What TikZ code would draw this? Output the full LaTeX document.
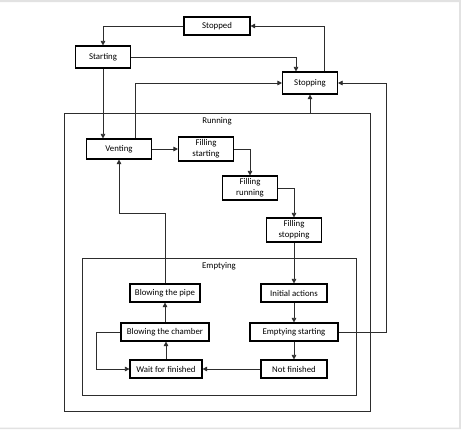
\documentclass[tikz,border=0pt]{standalone}
\usepackage{fontspec}
\setmainfont{Carlito}
\usetikzlibrary{arrows.meta, positioning, calc}
\definecolor{frame1}{RGB}{226,226,226}
\definecolor{line1}{RGB}{45,45,45}

\begin{document}
\begin{tikzpicture}[x=1pt, y=-1pt,
  state/.style={draw, line width=1.1pt, minimum height=18pt, inner sep=1pt, align=center, font=\fontsize{8.8}{11}\selectfont},
  group/.style={draw=line1, line width=0.8pt},
  caption/.style={font=\fontsize{8.8}{11}\selectfont},
  flow/.style={draw=line1, line width=0.6pt, -{Triangle[length=4.5pt,width=4.5pt]}}]
  \useasboundingbox[fill=white] (0,0) rectangle (461,429);
  \fill[frame1] (0,0) rectangle (461,2) (459,0) rectangle (461,429) (0,427.5) rectangle (461,429);

  \node[group, minimum width=306, minimum height=298] (running) at (217,262) {};
  \node[caption] (runlabel) at (217,121) {Running};
  \node[group, minimum width=274, minimum height=137] (emptying) at (219,326.5) {};
  \node[caption] (emplabel) at (219,266) {Emptying};

  \node[state, minimum width=66] (stopped) at (217,26) {Stopped};
  \node[state, minimum width=55, minimum height=22] (starting) at (103,57) {Starting};
  \node[state, minimum width=55, minimum height=22] (stopping) at (310,83) {Stopping};
  \node[state, minimum width=65, minimum height=20] (venting) at (119,149) {Venting};
  \node[state, minimum width=55, minimum height=24] (fillstart) at (206,149) {Filling\\starting};
  \node[state, minimum width=55, minimum height=24] (fillrun) at (250,188) {Filling\\running};
  \node[state, minimum width=55, minimum height=24] (fillstop) at (294,230) {Filling\\stopping};
  \node[state, minimum width=70] (pipe) at (165,293) {Blowing the pipe};
  \node[state, minimum width=66] (initial) at (294,293) {Initial actions};
  \node[state, minimum width=88] (chamber) at (165,332) {Blowing the chamber};
  \node[state, minimum width=88] (empstart) at (294,332) {Emptying starting};
  \node[state, minimum width=72] (wait) at (166,369) {Wait for finished};
  \node[state, minimum width=66] (notfin) at (294,369) {Not finished};
  \coordinate (outer) at (386,0);

  \draw[flow] (stopped.west) -| (starting.north);
  \draw[flow] (starting.east) -| ($(stopping.north)+(-14,0)$);
  \draw[flow] ($(stopping.north)+(14,0)$) |- (stopped.east);
  \draw[flow] (starting.south) -- (starting.south |- venting.north);
  \draw[flow] ($(venting.north)+(16,0)$) |- (stopping.west);
  \draw[flow] (running.north -| stopping.south) -- (stopping.south);
  \draw[flow] (empstart.east) -- (empstart.east -| outer) |- (stopping.east);
  \draw[flow] (venting) -- (fillstart);
  \draw[flow] (fillstart.east) -| (fillrun.north);
  \draw[flow] (fillrun.east) -| (fillstop.north);
  \draw[flow] (fillstop) -- (initial);
  \draw[flow] (initial) -- (empstart);
  \draw[flow] (empstart) -- (notfin);
  \draw[flow] (notfin) -- (wait);
  \draw[flow] (wait.north) -- (wait.north |- chamber.south);
  \draw[flow] (chamber) -- (pipe);
  \draw[flow] (pipe.north) -- ++(0,-70) -| (venting.south);
  \draw[flow] (chamber.west) -- ++(-24,0) |- (wait.west);
\end{tikzpicture}
\end{document}
